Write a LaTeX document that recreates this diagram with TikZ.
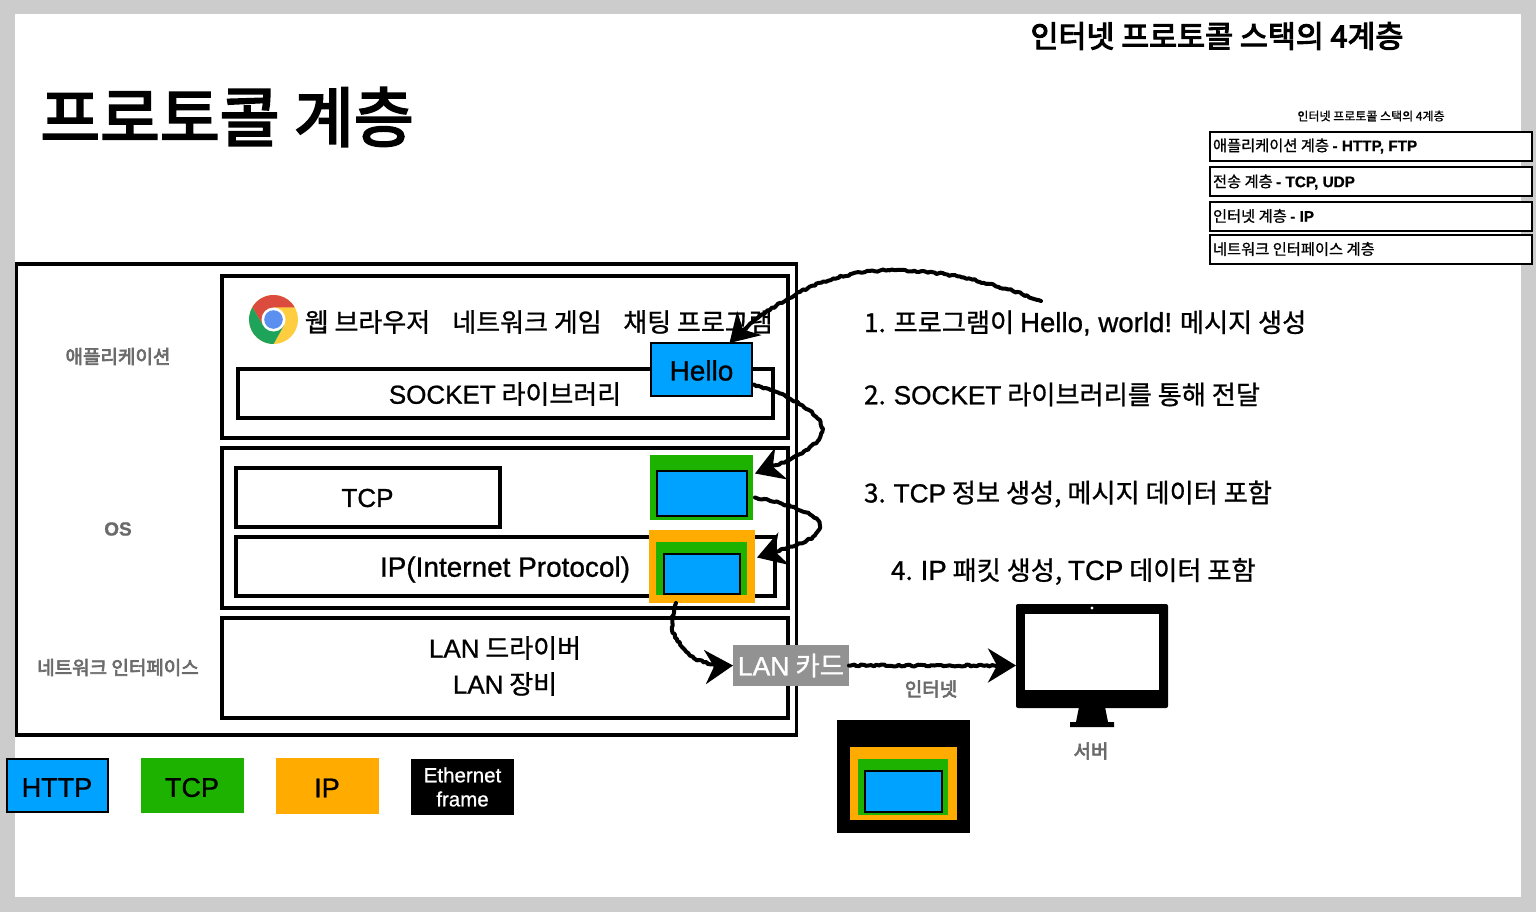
\documentclass[tikz,border=0pt]{standalone}
\usepackage{fontspec}
\setmainfont{Noto Sans CJK KR}[FakeBold=0.9]
\newfontfamily\heavyfont{Noto Sans CJK KR}[FakeBold=3.2]
\newfontfamily\midfont{Noto Sans CJK KR}[FakeBold=3.5]
\newfontfamily\latinfont{Liberation Sans}[FakeBold=0.9]
\newfontfamily\lowfont{Liberation Sans}[FakeBold=0.9,Scale=1.075]
\newfontfamily\stepfont{Liberation Sans}[FakeBold=0.9,Scale=1.055]
\newcommand{\E}[1]{{\latinfont #1}}
\newcommand{\El}[1]{{\lowfont #1}}
\newcommand{\Es}[1]{{\stepfont #1}}
\usetikzlibrary{arrows.meta,decorations.pathmorphing,calc}
\definecolor{pgrey}{HTML}{CCCCCC}
\definecolor{pblue}{HTML}{00A2FF}
\definecolor{pgreen}{HTML}{1DB100}
\definecolor{porange}{HTML}{FFAB00}
\definecolor{pcard}{HTML}{929292}
\definecolor{plabel}{HTML}{6B6B6B}
\definecolor{cred}{HTML}{DB4C3F}
\definecolor{cgreen}{HTML}{1DA45A}
\definecolor{cyellow}{HTML}{FFCD40}
\definecolor{cblue}{HTML}{5B8FF0}
\tikzset{
  bare/.style={inner sep=0pt,outer sep=0pt,align=center},
  layerbox/.style={bare,draw=black,fill=white,line width=3.3pt},
  thinbox/.style={bare,draw=black,fill=white,line width=2pt,minimum width=322pt,minimum height=29pt},
  pblock/.style={bare,fill=pblue,draw=black,line width=1.5pt},
  gblock/.style={bare,fill=pgreen},
  oblock/.style={bare,fill=porange},
  kblock/.style={bare,fill=black},
  greylabel/.style={bare,text=plabel,font=\fontsize{19}{22}\selectfont\midfont},
  body/.style={bare,font=\fontsize{26}{36}\selectfont},
  steplabel/.style={bare,anchor=west,font=\fontsize{26.2}{32}\selectfont},
  legendtext/.style={font=\fontsize{27}{30}\selectfont},
  layertext/.style={bare,anchor=west,font=\fontsize{15.3}{18}\selectfont},
  sketchy/.style={line width=4pt,line cap=round,line join=round,
    decorate,decoration={random steps,segment length=2.5pt,amplitude=1pt,post length=5pt},
    -{Stealth[length=28pt,width=34pt,inset=9pt]}},
}
\begin{document}
\begin{tikzpicture}[x=1pt,y=-1pt]
\useasboundingbox (0,0) rectangle (1536,912);
\fill[pgrey] (0,0) rectangle (1536,912);
\fill[white] (15,14) rectangle (1521,897);

% titles
\node[bare,font=\fontsize{65}{72}\selectfont\heavyfont] (title) at (227,117) {프로토콜 계층};
\node[bare,font=\fontsize{30.4}{36}\selectfont\midfont] (stacktitle) at (1217,36) {인터넷 프로토콜 스택의 4계층};

% small stack
\node[bare,font=\fontsize{12}{14}\selectfont] (smalltitle) at (1371,116) {인터넷 프로토콜 스택의 4계층};
\node[thinbox] (l1) at (1371,146.5) {};
\node[thinbox] (l2) at (1371,181.5) {};
\node[thinbox] (l3) at (1371,216.5) {};
\node[thinbox] (l4) at (1371,249.5) {};
\node[layertext] (l1t) at (1213,146) {애플리케이션 계층 \E{\textbf{- HTTP, FTP}}};
\node[layertext] (l2t) at (1213,182) {전송 계층 \E{\textbf{- TCP, UDP}}};
\node[layertext] (l3t) at (1213,216) {인터넷 계층 \E{\textbf{- IP}}};
\node[layertext] (l4t) at (1213,249) {네트워크 인터페이스 계층};

% main frame
\node[layerbox,minimum width=780pt,minimum height=471pt] (outer) at (406.5,499.5) {};
\node[layerbox,minimum width=566pt,minimum height=162pt] (app) at (505,357) {};
\node[layerbox,minimum width=566pt,minimum height=160pt] (os) at (505,528) {};
\node[layerbox,minimum width=566pt,minimum height=100pt] (net) at (505,668) {};
\node[greylabel] (lapp) at (118,356.5) {애플리케이션};
\node[greylabel] (los) at (118,529) {\E{\textbf{OS}}};
\node[greylabel] (lnet) at (118,667.5) {네트워크 인터페이스};

% chrome icon
\begin{scope}[shift={(273.5,319.5)},yscale=-1]
  \fill[cyellow] (0,0) circle[radius=24.5];
  \fill[cred] (21.2,12.25) arc[start angle=30,end angle=150,radius=24.5] -- (-10.4,-6) -- (0,0) -- (0,12) -- cycle;
  \fill[cgreen] (-21.2,12.25) arc[start angle=150,end angle=270,radius=24.5] -- (10.4,-6) -- (0,0) -- (-10.4,-6) -- cycle;
  \fill[white] (0,0) circle[radius=12];
  \fill[cblue] (0,0) circle[radius=9.3];
\end{scope}

\node[body] (web) at (367.5,322) {웹 브라우저};
\node[body] (game) at (527,322) {네트워크 게임};
\node[body] (chat) at (698,322) {채팅 프로그램};

% boxes
\node[layerbox,minimum width=535pt,minimum height=49pt] (socket) at (505.5,393.5) {};
\node[body] (sockettext) at (505,394) {\E{SOCKET} 라이브러리};
\node[pblock,minimum width=101pt,minimum height=53pt] (hello) at (701.5,369.5) {};
\node[body] (hellotext) at (701.5,370.5) {\El{Hello}};
\node[layerbox,minimum width=264pt,minimum height=59pt] (tcp) at (368,497.5) {};
\node[body] (tcptext) at (367.5,498) {\E{TCP}};
\node[layerbox,minimum width=539pt,minimum height=59pt] (ip) at (505.5,566.5) {};
\node[body] (iptext) at (505,569.5) {\El{IP(Internet Protocol)}};
\node[body] (lan) at (505,666) {\E{LAN} 드라이버\\\E{LAN} 장비};

% packets
\node[gblock,minimum width=103pt,minimum height=65pt] (tcpg) at (701.5,487.5) {};
\node[pblock,minimum width=90pt,minimum height=45pt] (tcpb) at (702,493.5) {};
\node[oblock,minimum width=106pt,minimum height=73pt] (ipo) at (702,566.5) {};
\node[gblock,minimum width=91pt,minimum height=53pt] (ipg) at (701.5,568.5) {};
\node[pblock,minimum width=76pt,minimum height=40pt] (ipb) at (702,574) {};

\node[bare,fill=pcard,text=white,minimum width=116pt,minimum height=41pt,font=\fontsize{26.5}{30}\selectfont] (card) at (791,665.5) {\E{LAN} 카드};

% monitor
\node[kblock,rounded corners=2pt,minimum width=152pt,minimum height=104pt] (monitor) at (1092,656) {};
\node[bare,fill=white,minimum width=134pt,minimum height=76pt] (screen) at (1092,652) {};
\fill[white] (1092,608) circle[radius=1.6];
\fill[black] (1079,707) -- (1105,707) -- (1108,722) -- (1114,722) -- (1114,727) -- (1070,727) -- (1070,722) -- (1076,722) -- cycle;
\node[greylabel] (inet) at (931,689) {인터넷};
\node[greylabel] (server) at (1091,751) {서버};

% frame packet
\node[kblock,minimum width=133pt,minimum height=113pt] (fk) at (903.5,776.5) {};
\node[oblock,minimum width=107pt,minimum height=73pt] (fo) at (903.5,783.5) {};
\node[gblock,minimum width=90pt,minimum height=56pt] (fg) at (903,787) {};
\node[pblock,minimum width=77pt,minimum height=41pt] (fb) at (903.5,791.5) {};

% legend
\node[pblock,minimum width=101pt,minimum height=53pt] (lhttp) at (57.5,785.5) {};
\node[bare,legendtext] (lhttpt) at (57,787.5) {\E{HTTP}};
\node[gblock,minimum width=103pt,minimum height=55pt] (ltcp) at (192.5,785.5) {};
\node[bare,legendtext] (ltcpt) at (192,787.5) {\E{TCP}};
\node[oblock,minimum width=103pt,minimum height=56pt] (lip) at (327.5,786) {};
\node[bare,legendtext] (lipt) at (327,788) {\E{IP}};
\node[kblock,text=white,minimum width=103pt,minimum height=56pt,font=\fontsize{20.5}{24}\selectfont] (leth) at (462.5,787) {\E{Ethernet}\\\E{frame}};

% step texts
\node[steplabel] (s1) at (864,323) {1. 프로그램이 \Es{Hello, world!} 메시지 생성};
\node[steplabel] (s2) at (864,394.5) {2. \E{SOCKET} 라이브러리를 통해 전달};
\node[steplabel] (s3) at (864,494) {3. \E{TCP} 정보 생성, 메시지 데이터 포함};
\node[steplabel] (s4) at (891,571.5) {4. \Es{IP} 패킷 생성, \Es{TCP} 데이터 포함};

% connectors
\coordinate (a1start) at (1041,301);
\draw[sketchy] (a1start) .. controls (960,270) and (870,255) .. (800,292) .. controls (775,305) and (750,322) .. ([xshift=28pt]hello.north);
\draw[sketchy] ([yshift=-15pt,xshift=2pt]hello.east) .. controls (790,395) and (825,415) .. (822,432) .. controls (818,450) and (785,462) .. ([yshift=14pt,xshift=2pt]tcpg.east);
\draw[sketchy] ([yshift=-10pt,xshift=2pt]tcpg.east) .. controls (785,503) and (822,515) .. (820,527) .. controls (818,542) and (785,548) .. ([yshift=9pt,xshift=2pt]ipo.east);
\draw[sketchy] ([xshift=-26pt]ipo.south) .. controls (668,625) and (672,635) .. (685,650) .. controls (695,662) and (715,667) .. (card.west);
\draw[sketchy] (card.east) -- ([yshift=-9.5pt]monitor.west);
\end{tikzpicture}
\end{document}
